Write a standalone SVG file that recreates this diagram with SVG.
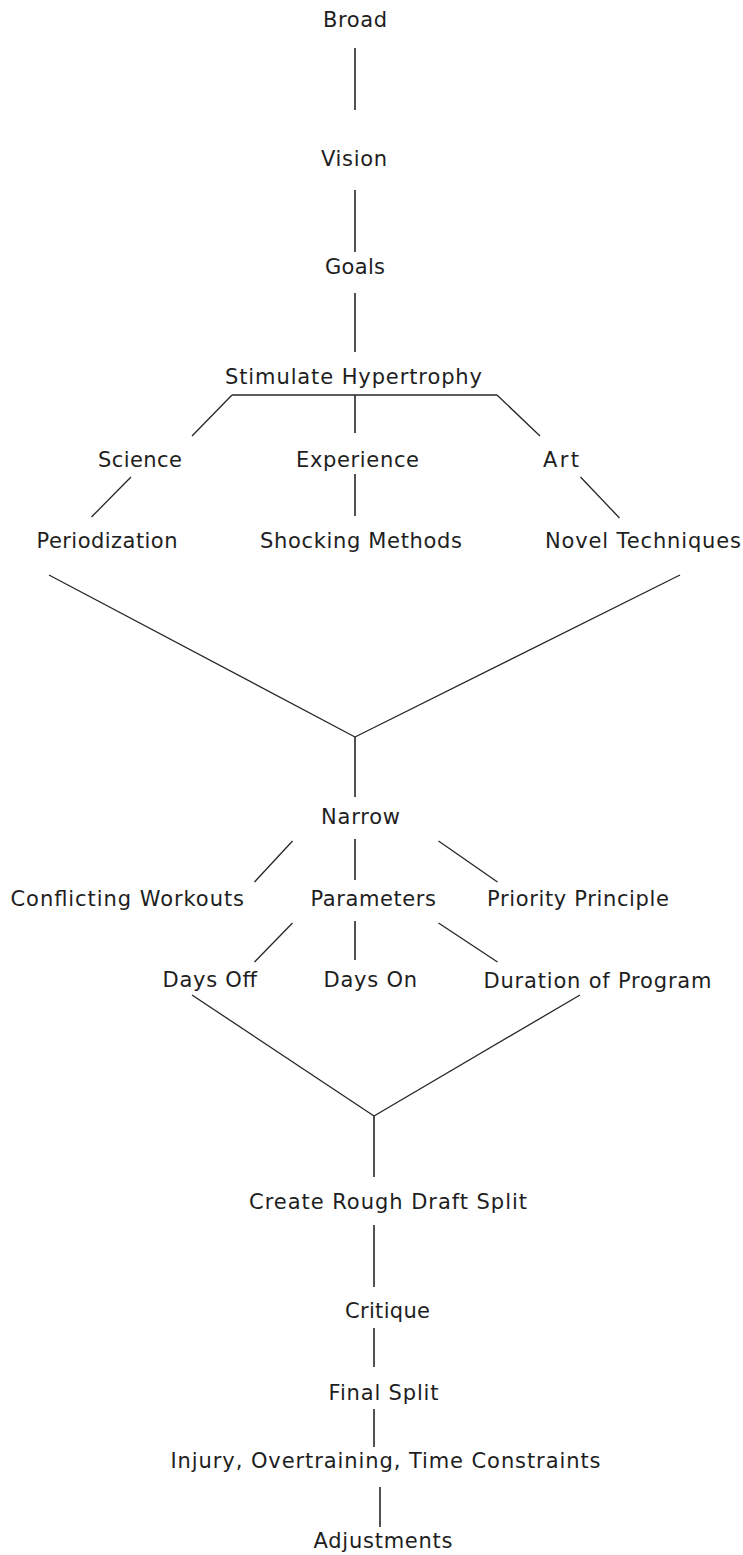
<svg xmlns="http://www.w3.org/2000/svg" width="743" height="1555" viewBox="0 0 743 1555">
  <style>
    .bg { fill: #ffffff; }
    .lbl { font-family: "DejaVu Sans", Verdana, "Liberation Sans", sans-serif; font-size: 21px; fill: #1e1e1e; }
    .ln { stroke: #262626; stroke-width: 1.6; fill: none; stroke-linecap: butt; }
    .dg { stroke: #262626; stroke-width: 1.3; fill: none; }
  </style>
  <rect class="bg" x="0" y="0" width="743" height="1555"/>

  <!-- connectors -->
  <g id="connectors">
    <line class="ln" x1="355" y1="48" x2="355" y2="110"/>
    <line class="ln" x1="355" y1="190" x2="355" y2="252"/>
    <line class="ln" x1="355" y1="293" x2="355" y2="352"/>
    <line class="ln" x1="232" y1="395" x2="497" y2="395"/>
    <line class="ln" x1="355" y1="395" x2="355" y2="433"/>
    <line class="dg" x1="232" y1="395" x2="192" y2="436"/>
    <line class="dg" x1="497" y1="395" x2="540" y2="436"/>
    <line class="dg" x1="131" y1="477" x2="91.5" y2="517"/>
    <line class="ln" x1="355" y1="474" x2="355" y2="516"/>
    <line class="dg" x1="580.5" y1="477" x2="619.5" y2="518"/>
    <line class="dg" x1="49" y1="575" x2="355" y2="737"/>
    <line class="dg" x1="680" y1="575" x2="355" y2="737"/>
    <line class="ln" x1="355" y1="737" x2="355" y2="797"/>
    <line class="dg" x1="292.5" y1="841" x2="254.5" y2="882"/>
    <line class="ln" x1="355" y1="839" x2="355" y2="880"/>
    <line class="dg" x1="438.5" y1="841" x2="497.5" y2="882"/>
    <line class="dg" x1="292.5" y1="923" x2="254.5" y2="962"/>
    <line class="ln" x1="355" y1="921" x2="355" y2="960"/>
    <line class="dg" x1="438.5" y1="923" x2="497.5" y2="962"/>
    <line class="dg" x1="192" y1="995" x2="374" y2="1116"/>
    <line class="dg" x1="580" y1="995" x2="374" y2="1116"/>
    <line class="ln" x1="374" y1="1116" x2="374" y2="1177"/>
    <line class="ln" x1="374" y1="1225" x2="374" y2="1287"/>
    <line class="ln" x1="374" y1="1328" x2="374" y2="1367"/>
    <line class="ln" x1="374" y1="1409" x2="374" y2="1447"/>
    <line class="ln" x1="380" y1="1487" x2="380" y2="1527"/>
  </g>

  <!-- nodes -->
  <g id="n-broad"><text class="lbl" x="323" y="27" textLength="64" lengthAdjust="spacing">Broad</text></g>
  <g id="n-vision"><text class="lbl" x="321" y="166" textLength="66" lengthAdjust="spacing">Vision</text></g>
  <g id="n-goals"><text class="lbl" x="325" y="274" textLength="60" lengthAdjust="spacing">Goals</text></g>
  <g id="n-stimulate"><text class="lbl" x="225" y="384" textLength="257" lengthAdjust="spacing">Stimulate Hypertrophy</text></g>
  <g id="n-science"><text class="lbl" x="98" y="467" textLength="84" lengthAdjust="spacing">Science</text></g>
  <g id="n-experience"><text class="lbl" x="296" y="467" textLength="123" lengthAdjust="spacing">Experience</text></g>
  <g id="n-art"><text class="lbl" x="543" y="467" textLength="36" lengthAdjust="spacing">Art</text></g>
  <g id="n-periodization"><text class="lbl" x="36.5" y="548" textLength="141" lengthAdjust="spacing">Periodization</text></g>
  <g id="n-shocking"><text class="lbl" x="260" y="548" textLength="202" lengthAdjust="spacing">Shocking Methods</text></g>
  <g id="n-novel"><text class="lbl" x="545" y="548" textLength="196" lengthAdjust="spacing">Novel Techniques</text></g>
  <g id="n-narrow"><text class="lbl" x="321" y="824" textLength="79" lengthAdjust="spacing">Narrow</text></g>
  <g id="n-conflicting"><text class="lbl" x="10.5" y="906" textLength="233.5" lengthAdjust="spacing">Conflicting Workouts</text></g>
  <g id="n-parameters"><text class="lbl" x="310.5" y="906" textLength="125.5" lengthAdjust="spacing">Parameters</text></g>
  <g id="n-priority"><text class="lbl" x="487" y="906" textLength="182" lengthAdjust="spacing">Priority Principle</text></g>
  <g id="n-daysoff"><text class="lbl" x="162.5" y="987" textLength="94.5" lengthAdjust="spacing">Days Off</text></g>
  <g id="n-dayson"><text class="lbl" x="323.5" y="987" textLength="93.5" lengthAdjust="spacing">Days On</text></g>
  <g id="n-duration"><text class="lbl" x="483.5" y="988" textLength="228" lengthAdjust="spacing">Duration of Program</text></g>
  <g id="n-rough"><text class="lbl" x="249" y="1209" textLength="278" lengthAdjust="spacing">Create Rough Draft Split</text></g>
  <g id="n-critique"><text class="lbl" x="345" y="1318" textLength="85" lengthAdjust="spacing">Critique</text></g>
  <g id="n-final"><text class="lbl" x="328.5" y="1400" textLength="110" lengthAdjust="spacing">Final Split</text></g>
  <g id="n-injury"><text class="lbl" x="170.5" y="1468" textLength="430" lengthAdjust="spacing">Injury, Overtraining, Time Constraints</text></g>
  <g id="n-adjust"><text class="lbl" x="313.5" y="1548" textLength="139" lengthAdjust="spacing">Adjustments</text></g>
</svg>
